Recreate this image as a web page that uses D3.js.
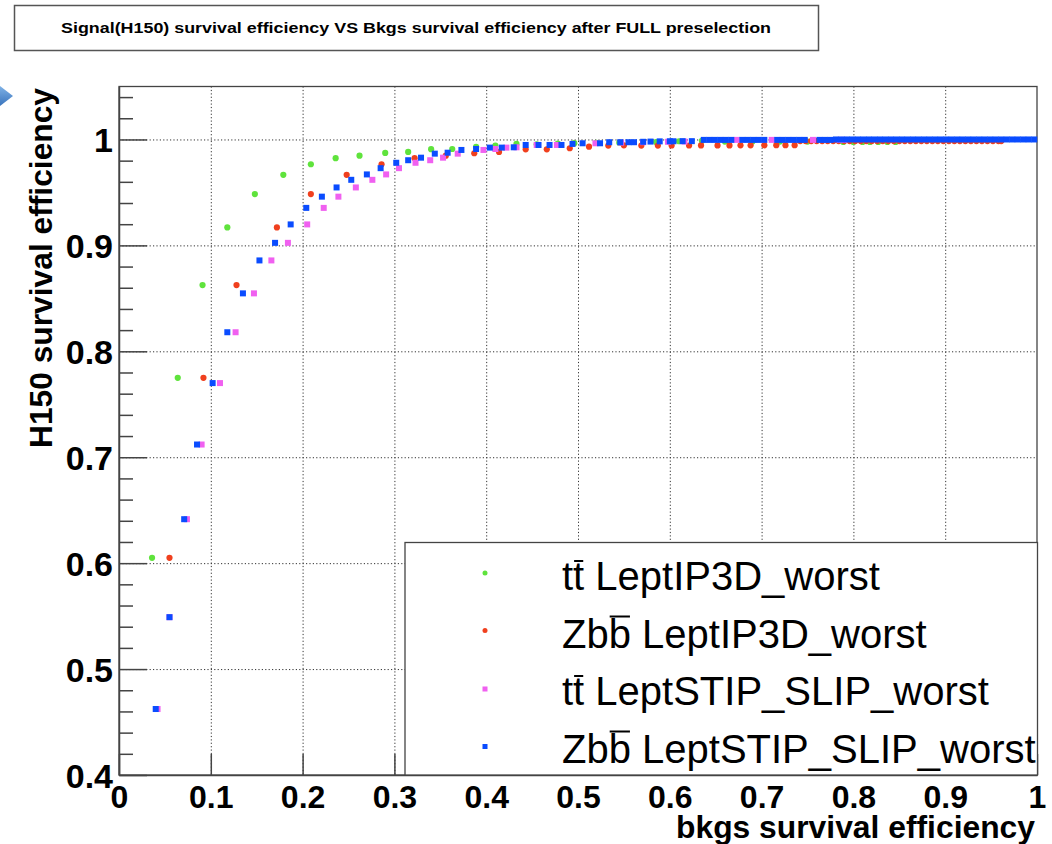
<!DOCTYPE html>
<html>
<head>
<meta charset="utf-8">
<script src="https://cdn.jsdelivr.net/npm/d3@7"></script>
<style>
  body { margin: 0; background: #fff; }
  svg { display: block; font-family: "Liberation Sans", Arial, sans-serif; }
</style>
</head>
<body>
<svg id="chart" width="1052" height="844"></svg>
<script>
"use strict";

/* values */
let titleText = 'Signal(H150) survival efficiency VS Bkgs survival efficiency after FULL preselection';
let xLabel = 'bkgs survival efficiency';
let yLabel = 'H150 survival efficiency';

let xTickValues = [0, 0.1, 0.2, 0.3, 0.4, 0.5, 0.6, 0.7, 0.8, 0.9, 1];
let yTickValues = [0.4, 0.5, 0.6, 0.7, 0.8, 0.9, 1];

let legendLabels = ['tt LeptIP3D_worst', 'Zbb LeptIP3D_worst', 'tt LeptSTIP_SLIP_worst', 'Zbb LeptSTIP_SLIP_worst'];
let legendBarChar = [1, 2, 1, 2];

/* tt LeptIP3D_worst (green) */
let ttIP3Dx = [0.036, 0.064, 0.091, 0.118, 0.148, 0.179, 0.209, 0.236, 0.262, 0.290, 0.315, 0.340, 0.363, 0.389,
  0.410, 0.433, 0.455, 0.478, 0.496, 0.520, 0.545, 0.585, 0.610, 0.635, 0.660, 0.690, 0.720, 0.750,
  0.789, 0.800, 0.810, 0.818, 0.827, 0.837, 0.846];
let ttIP3Dy = [0.605, 0.775, 0.8625, 0.917, 0.9484, 0.9666, 0.9766, 0.9823, 0.9847, 0.9873, 0.9882, 0.9908, 0.9910, 0.9930,
  0.9943, 0.9958, 0.9955, 0.9960, 0.9965, 0.9968, 0.9970, 0.9976, 0.9983, 0.9988, 0.9980, 0.9980, 0.9980, 0.9980,
  0.9976, 0.9976, 0.9976, 0.9976, 0.9976, 0.9976, 0.9976];

/* Zbb LeptIP3D_worst (red) */
let zbbIP3Dx = [0.055, 0.092, 0.128, 0.172, 0.209, 0.248, 0.286, 0.322, 0.356, 0.387, 0.414, 0.443, 0.466, 0.491,
  0.512, 0.533, 0.550, 0.569, 0.587, 0.602, 0.621, 0.634, 0.652, 0.665, 0.677, 0.688, 0.703, 0.716, 0.726, 0.736,
  0.742, 0.748, 0.754, 0.760, 0.766, 0.772, 0.778, 0.784, 0.790, 0.796, 0.802, 0.808, 0.814, 0.820, 0.826, 0.832,
  0.838, 0.844, 0.850, 0.856, 0.862, 0.868, 0.874, 0.880, 0.886, 0.892, 0.898, 0.904, 0.910, 0.916, 0.922, 0.928,
  0.934, 0.940, 0.946, 0.952, 0.958, 0.961];
let zbbIP3Dy = [0.605, 0.775, 0.8625, 0.917, 0.9484, 0.9666, 0.9766, 0.9823, 0.9847, 0.9870, 0.9882, 0.9907, 0.9907, 0.9917,
  0.9932, 0.9942, 0.9945, 0.9942, 0.9942, 0.9943, 0.9943, 0.9944, 0.9944, 0.9944, 0.9945, 0.9945, 0.9945, 0.9946, 0.9946, 0.9946,
  0.9985, 0.9985, 0.9985, 0.9985, 0.9985, 0.9985, 0.9985, 0.9985, 0.9985, 0.9985, 0.9985, 0.9985, 0.9985, 0.9985, 0.9985, 0.9985,
  0.9985, 0.9985, 0.9985, 0.9985, 0.9985, 0.9985, 0.9985, 0.9985, 0.9985, 0.9985, 0.9985, 0.9985, 0.9985, 0.9985, 0.9985, 0.9985,
  0.9985, 0.9985, 0.9985, 0.9985, 0.9985, 0.9985];

/* tt LeptSTIP_SLIP_worst (magenta) */
let ttSTIPx = [0.042, 0.055, 0.074, 0.090, 0.110, 0.127, 0.147, 0.166, 0.184, 0.205, 0.223, 0.239, 0.258, 0.276, 0.291,
  0.305, 0.323, 0.339, 0.353, 0.369, 0.397, 0.410, 0.422, 0.433, 0.455, 0.477, 0.519, 0.547, 0.571, 0.598, 0.616,
  0.673, 0.711, 0.756, 0.785, 0.790];
let ttSTIPy = [0.4623, 0.549, 0.6415, 0.712, 0.770, 0.818, 0.8547, 0.8858, 0.9024, 0.9198, 0.9354, 0.946, 0.9547, 0.9619, 0.967,
  0.9729, 0.978, 0.9804, 0.9828, 0.9866, 0.9901, 0.9910, 0.9923, 0.9926, 0.9948, 0.9948, 0.9964, 0.9970, 0.9974, 0.9978, 0.9980,
  0.9996, 0.9996, 0.9996, 0.9996, 0.9996];

/* Zbb LeptSTIP_SLIP_worst (blue) */
let zbbSTIPx = [0.040, 0.055, 0.071, 0.085, 0.102, 0.118, 0.135, 0.153, 0.170, 0.187, 0.204, 0.221, 0.237, 0.253, 0.270,
  0.285, 0.302, 0.315, 0.329, 0.344, 0.358, 0.373, 0.389, 0.404, 0.417, 0.430, 0.443, 0.457, 0.469, 0.482, 0.494,
  0.505, 0.524, 0.534, 0.546, 0.555, 0.561, 0.571, 0.579, 0.589, 0.600, 0.604, 0.614, 0.624,
  0.637, 0.643, 0.649, 0.655, 0.661, 0.667, 0.679, 0.685, 0.691, 0.697, 0.703, 0.717, 0.723, 0.729, 0.735, 0.741,
  0.747, 0.763, 0.769, 0.775,
  0.781, 0.787, 0.793, 0.799, 0.805, 0.811, 0.817, 0.823, 0.829, 0.835, 0.841, 0.847, 0.853, 0.859, 0.865, 0.871,
  0.877, 0.883, 0.889, 0.895, 0.901, 0.907, 0.913, 0.919, 0.925, 0.931, 0.937, 0.943, 0.949, 0.955, 0.961, 0.967,
  0.973, 0.979, 0.985, 0.991, 0.997];
let zbbSTIPy = [0.4623, 0.549, 0.6415, 0.712, 0.770, 0.818, 0.8547, 0.8858, 0.9024, 0.9198, 0.9354, 0.946, 0.9547, 0.9619, 0.967,
  0.9729, 0.978, 0.9804, 0.9828, 0.9866, 0.9875, 0.9901, 0.9910, 0.9923, 0.9923, 0.9926, 0.9948, 0.9948, 0.9948, 0.9948, 0.9958,
  0.9964, 0.9964, 0.9974, 0.9974, 0.9974, 0.9974, 0.9978, 0.9980, 0.9982, 0.9983, 0.9983, 0.9984, 0.9984,
  0.9996, 0.9996, 0.9996, 0.9996, 0.9996, 0.9996, 0.9996, 0.9996, 0.9996, 0.9996, 0.9996, 0.9996, 0.9996, 0.9996, 0.9996, 0.9996,
  0.9996, 0.9996, 0.9996, 0.9996,
  1.0, 1.0, 1.0, 1.0, 1.0, 1.0, 1.0, 1.0, 1.0, 1.0, 1.0, 1.0, 1.0, 1.0, 1.0, 1.0,
  1.0, 1.0, 1.0, 1.0, 1.0, 1.0, 1.0, 1.0, 1.0, 1.0, 1.0, 1.0, 1.0, 1.0, 1.0, 1.0,
  1.0, 1.0, 1.0, 1.0, 1.0];

let seriesColors = ['#5fe33c', '#f0401e', '#f060f0', '#0a4cff'];
let seriesShapes = ['circle', 'circle', 'square', 'square'];

let series = [
  {label: legendLabels[0], xs: ttIP3Dx, ys: ttIP3Dy},
  {label: legendLabels[1], xs: zbbIP3Dx, ys: zbbIP3Dy},
  {label: legendLabels[2], xs: ttSTIPx, ys: ttSTIPy},
  {label: legendLabels[3], xs: zbbSTIPx, ys: zbbSTIPy}
].map((s, i) => ({
  label: s.label,
  color: seriesColors[i],
  shape: seriesShapes[i],
  bar: legendBarChar[i],
  points: s.xs.map((x, j) => ({x: x, y: s.ys[j]}))
}));

let svg = d3.select('svg#chart');

let frame = {left: 119, right: 1037, top: 86.5, bottom: 775};

let x = d3.scaleLinear().domain([0, 1]).range([frame.left, frame.right]);
let y = d3.scaleLinear().domain([0.4, 1.05]).range([frame.bottom, frame.top]);

/* little slide arrow at the top left */
let defs = svg.append('defs');
let grad = defs.append('linearGradient').attr('id', 'arrowGrad')
  .attr('x1', '0').attr('y1', '0').attr('x2', '0').attr('y2', '1');
grad.append('stop').attr('offset', '0%').attr('stop-color', '#7fb2e6');
grad.append('stop').attr('offset', '100%').attr('stop-color', '#3a74bd');
svg.append('path')
  .attr('d', 'M0,86 L13,96 L0,106 Z')
  .attr('fill', 'url(#arrowGrad)');

/* title box */
svg.append('rect')
  .attr('x', 14.5).attr('y', 5.5)
  .attr('width', 804).attr('height', 45)
  .attr('fill', '#fff')
  .attr('stroke', '#555')
  .attr('stroke-width', 1.5);
svg.append('text')
  .attr('x', 416).attr('y', 33)
  .attr('text-anchor', 'middle')
  .style('font-size', '15px')
  .style('font-weight', 'bold')
  .attr('textLength', 710)
  .attr('lengthAdjust', 'spacingAndGlyphs')
  .text(titleText);

/* grid */
let grid = svg.append('g').attr('class', 'grid')
  .attr('stroke', '#333')
  .attr('stroke-width', 1)
  .attr('stroke-dasharray', '1.2,2.2');
grid.selectAll('line.gx')
  .data(xTickValues.filter(d => d > 0 && d < 1))
  .enter().append('line')
  .attr('class', 'gx')
  .attr('x1', d => x(d) + 0.5).attr('x2', d => x(d) + 0.5)
  .attr('y1', frame.top).attr('y2', frame.bottom);
grid.selectAll('line.gy')
  .data(yTickValues.filter(d => d > 0.4))
  .enter().append('line')
  .attr('class', 'gy')
  .attr('x1', frame.left).attr('x2', frame.right)
  .attr('y1', d => y(d) + 0.5).attr('y2', d => y(d) + 0.5);

/* frame */
svg.append('rect')
  .attr('x', frame.left).attr('y', frame.top)
  .attr('width', frame.right - frame.left)
  .attr('height', frame.bottom - frame.top)
  .attr('fill', 'none')
  .attr('stroke', '#444')
  .attr('stroke-width', 1.3);

/* axes */
let fmt = d => (d === 0 || d === 1) ? String(d) : d.toFixed(1);

let yMinor = d3.range(0.42, 1.045, 0.02).filter(v => Math.abs(v * 10 - Math.round(v * 10)) > 1e-6);
svg.append('g')
  .attr('transform', `translate(${frame.left},0)`)
  .call(d3.axisLeft(y).tickValues(yMinor).tickSizeInner(-14).tickSizeOuter(0).tickFormat(''))
  .call(g => g.select('.domain').remove())
  .selectAll('line').attr('stroke', '#444').attr('stroke-width', 1.5);

let yAxisG = svg.append('g')
  .attr('transform', `translate(${frame.left},0)`)
  .call(d3.axisLeft(y).tickValues(yTickValues).tickSizeInner(-28).tickSizeOuter(0).tickPadding(6).tickFormat(fmt));
yAxisG.select('.domain').attr('stroke', '#444').attr('stroke-width', 1.5);
yAxisG.selectAll('line').attr('stroke', '#444').attr('stroke-width', 1.5);
yAxisG.selectAll('text')
  .attr('dy', '0.36em')
  .style('font-family', '"Liberation Sans", Arial, sans-serif')
  .style('font-size', '34px')
  .style('font-weight', 'bold')
  .attr('fill', '#000');

let xAxisG = svg.append('g')
  .attr('transform', `translate(0,${frame.bottom})`)
  .call(d3.axisBottom(x).tickValues(xTickValues).tickSizeInner(-21).tickSizeOuter(0).tickPadding(10).tickFormat(fmt));
xAxisG.select('.domain').attr('stroke', '#444').attr('stroke-width', 1.5);
xAxisG.selectAll('line').attr('stroke', '#444').attr('stroke-width', 1.5);
xAxisG.selectAll('text')
  .style('font-family', '"Liberation Sans", Arial, sans-serif')
  .style('font-size', '32px')
  .style('font-weight', 'bold')
  .attr('fill', '#000');

/* axis titles */
svg.append('text')
  .attr('x', 1035).attr('y', 838)
  .attr('text-anchor', 'end')
  .style('font-size', '32px')
  .style('font-weight', 'bold')
  .attr('textLength', 359)
  .attr('lengthAdjust', 'spacingAndGlyphs')
  .text(xLabel);
svg.append('text')
  .attr('transform', 'translate(52,88) rotate(-90)')
  .attr('text-anchor', 'end')
  .style('font-size', '32px')
  .style('font-weight', 'bold')
  .attr('textLength', 360)
  .attr('lengthAdjust', 'spacingAndGlyphs')
  .text(yLabel);

/* markers */
function drawMarker(sel, s) {
  if (s.shape === 'square') {
    sel.append('rect')
      .attr('x', d => x(d.x) - 3).attr('y', d => y(d.y) - 3)
      .attr('width', 6).attr('height', 6)
      .attr('fill', s.color);
  } else {
    sel.append('circle')
      .attr('cx', d => x(d.x)).attr('cy', d => y(d.y))
      .attr('r', 3.1)
      .attr('fill', s.color);
  }
}

let plot = svg.append('g').attr('class', 'points');
for (let s of series) {
  let g = plot.append('g');
  let sel = g.selectAll('g.pt').data(s.points).enter().append('g').attr('class', 'pt');
  drawMarker(sel, s);
}

/* legend */
let legendBox = {left: 405, right: 1037.5, top: 542.5, bottom: 775};
svg.append('rect')
  .attr('x', legendBox.left).attr('y', legendBox.top)
  .attr('width', legendBox.right - legendBox.left)
  .attr('height', legendBox.bottom - legendBox.top)
  .attr('fill', '#fff')
  .attr('stroke', '#444')
  .attr('stroke-width', 1.3);

let legendBaselines = [590, 647.5, 705, 762.5];
let legend = svg.append('g').attr('class', 'legend');
series.forEach((s, i) => {
  let base = legendBaselines[i];
  let mk = legend.append('g');
  if (s.shape === 'square') {
    mk.append('rect')
      .attr('x', 485 - 2.5).attr('y', base - 18.5)
      .attr('width', 5).attr('height', 5)
      .attr('fill', s.color);
  } else {
    mk.append('circle')
      .attr('cx', 485).attr('cy', base - 17)
      .attr('r', 2.5)
      .attr('fill', s.color);
  }
  let t = legend.append('text')
    .attr('x', 562).attr('y', base)
    .style('font-size', '40px')
    .attr('fill', '#000')
    .text(s.label);
  /* overline on the anti-quark letter */
  let ext = t.node().getExtentOfChar(s.bar);
  let lift = s.label.charAt(s.bar) === 'b' ? 31 : 29;
  legend.append('line')
    .attr('x1', ext.x + 1).attr('x2', ext.x + ext.width - 1)
    .attr('y1', base - lift).attr('y2', base - lift)
    .attr('stroke', '#000')
    .attr('stroke-width', 2);
});
</script>
</body>
</html>
